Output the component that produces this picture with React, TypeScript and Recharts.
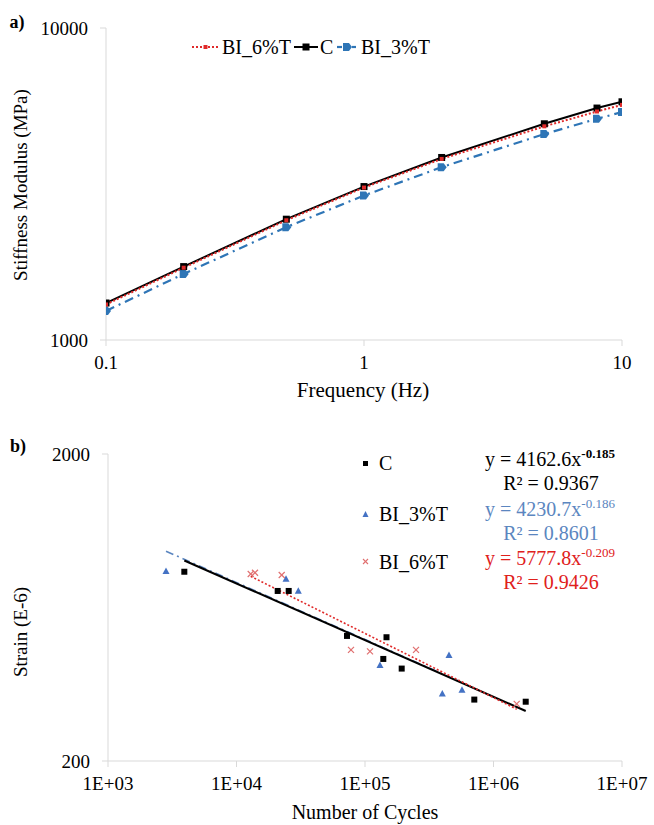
import React from "react";
import { LineChart, Line, ScatterChart, Scatter, XAxis, YAxis } from "recharts";

const FONT = '"Liberation Serif", "Times New Roman", serif';
const AXIS_GREY = "#d9d9d9";

// a) stiffness vs frequency
const FREQ = [0.1, 0.2, 0.5, 1, 2, 5, 8, 10];
const MOD_C = [1314, 1719, 2439, 3103, 3846, 4932, 5539, 5801];
const MOD_BI6 = [1300, 1705, 2420, 3080, 3805, 4840, 5400, 5670];
const MOD_BI3 = [1239, 1628, 2299, 2904, 3581, 4571, 5117, 5376];
const FREQ_TICKS = [0.1, 1, 10];
const MOD_TICKS = [1000, 10000];

// b) fatigue
const C_N = [3926, 20920, 25480, 72440, 147000, 138800, 193000, 708900, 1781000];
const C_S = [827, 716, 716, 511, 506, 430, 400, 317, 312];
const BI3_N = [2828, 24280, 30270, 130800, 450400, 399600, 568600];
const BI3_S = [832, 785, 717, 411, 443, 332, 341];
const BI6_N = [12900, 13930, 22480, 77800, 109400, 249400, 1515000];
const BI6_S = [813, 821, 807, 460, 455, 460, 307];

// trendline ends (from the fitted equations shown)
const TREND_C_N = [3926, 1781000];
const TREND_C_S = [900, 291];
const TREND_BI3_N = [2828, 568600];
const TREND_BI3_S = [965, 360];
const TREND_BI6_N = [12900, 1515000];
const TREND_BI6_S = [799, 295];

const CYCLE_TICKS = [1e3, 1e4, 1e5, 1e6, 1e7];
const STRAIN_TICKS = [200, 2000];

const topData = FREQ.map((f, i) => ({ f, c: MOD_C[i], bi6: MOD_BI6[i], bi3: MOD_BI3[i] }));
const pts = (ns: number[], ss: number[]) => ns.map((n, i) => ({ n, s: ss[i] }));

const RED = "#e02a2a";
const BLUE = "#2e75b6";
const TRI_BLUE = "#4472c4";
const EQ_BLUE = "#5b86c0";

const tickStyle = { fill: "#000", fontSize: 19, fontFamily: FONT };

const squareDot = (size: number, color: string) => (p: any) => (
  <rect key={p.index} x={p.cx - size / 2} y={p.cy - size / 2} width={size} height={size} fill={color} />
);

const diamondDot = (p: any) => (
  <path
    key={p.index}
    d={`M${p.cx - 4},${p.cy - 4} L${p.cx + 2},${p.cy - 4} L${p.cx + 5},${p.cy} L${p.cx + 2},${p.cy + 4} L${p.cx - 4},${p.cy + 4} Z`}
    fill={BLUE}
  />
);

const Square = (p: any) => <rect x={p.cx - 3} y={p.cy - 3} width={6} height={6} fill="#000" />;
const Tri = (p: any) => (
  <path d={`M${p.cx},${p.cy - 3.5} L${p.cx + 3.5},${p.cy + 3} L${p.cx - 3.5},${p.cy + 3} Z`} fill={TRI_BLUE} />
);
const Cross = (p: any) => (
  <g stroke="#e07070" strokeWidth={1.2}>
    <line x1={p.cx - 3} y1={p.cy - 3} x2={p.cx + 3} y2={p.cy + 3} />
    <line x1={p.cx - 3} y1={p.cy + 3} x2={p.cx + 3} y2={p.cy - 3} />
  </g>
);
const NoShape = () => <g />;

function Txt({ x, y, size = 18, rotate = false, color = "#000", bold = false, children }: any) {
  return (
    <div
      style={{
        position: "absolute",
        left: x,
        top: y,
        transform: `translate(-50%, -50%)${rotate ? " rotate(-90deg)" : ""}`,
        fontFamily: FONT,
        fontSize: size,
        fontWeight: bold ? 700 : 400,
        color,
        whiteSpace: "nowrap",
        lineHeight: 1,
      }}
    >
      {children}
    </div>
  );
}

function Eq({ y, a, b, r2, color, bold }: any) {
  return (
    <>
      <Txt x={550} y={y} size={20} color={color}>
        y = {a}x<sup style={{ fontSize: 13, fontWeight: bold ? 700 : 400 }}>-{b}</sup>
      </Txt>
      <Txt x={551} y={y + 25} size={20} color={color}>
        R² = {r2}
      </Txt>
    </>
  );
}

export default function App() {
  return (
    <div style={{ position: "absolute", left: 0, top: 0, width: 654, height: 825, background: "#fff" }}>
      <div style={{ position: "absolute", left: 0, top: 0 }}>
        <LineChart width={654} height={400} data={topData} margin={{ top: 28, right: 32, left: 0, bottom: 30 }}>
          <XAxis
            dataKey="f"
            type="number"
            scale="log"
            domain={[0.1, 10]}
            ticks={FREQ_TICKS}
            allowDataOverflow
            stroke={AXIS_GREY}
            tick={tickStyle}
            tickSize={6}
            tickMargin={10}
            height={30}
          />
          <YAxis
            type="number"
            scale="log"
            domain={[1000, 10000]}
            ticks={MOD_TICKS}
            allowDataOverflow
            stroke={AXIS_GREY}
            tick={tickStyle}
            tickSize={6}
            tickMargin={12}
            width={106}
          />
          <Line dataKey="bi3" stroke={BLUE} strokeWidth={2.2} strokeDasharray="9 5 2 5" dot={diamondDot} isAnimationActive={false} />
          <Line dataKey="c" stroke="#000" strokeWidth={2} dot={squareDot(7, "#000")} isAnimationActive={false} />
          <Line dataKey="bi6" stroke={RED} strokeWidth={2} strokeDasharray="2 2" dot={squareDot(4, RED)} isAnimationActive={false} />
        </LineChart>
      </div>

      <svg style={{ position: "absolute", left: 0, top: 0 }} width={654} height={70}>
        <line x1={192} y1={47} x2={219} y2={47} stroke={RED} strokeWidth={2} strokeDasharray="2 2" />
        <rect x={203.5} y={45} width={4} height={4} fill={RED} />
        <text x={222} y={54} fontFamily={FONT} fontSize={20}>BI_6%T</text>
        <line x1={294} y1={47} x2={318} y2={47} stroke="#000" strokeWidth={2} />
        <rect x={302.5} y={43.5} width={7} height={7} fill="#000" />
        <text x={320} y={54} fontFamily={FONT} fontSize={20}>C</text>
        <line x1={337} y1={47} x2={342} y2={47} stroke={BLUE} strokeWidth={2.2} />
        <line x1={352} y1={47} x2={356} y2={47} stroke={BLUE} strokeWidth={2.2} />
        <path d="M343,43 L349,43 L352,47 L349,51 L343,51 Z" fill={BLUE} />
        <text x={361} y={54} fontFamily={FONT} fontSize={20}>BI_3%T</text>
      </svg>

      <Txt x={17} y={22} size={18} bold>a)</Txt>
      <Txt x={20} y={185} size={19} rotate>Stiffness Modulus (MPa)</Txt>
      <Txt x={363} y={390} size={21}>Frequency (Hz)</Txt>

      <div style={{ position: "absolute", left: 0, top: 420 }}>
        <ScatterChart width={654} height={405} margin={{ top: 34, right: 32, left: 0, bottom: 34 }}>
          <XAxis
            dataKey="n"
            type="number"
            scale="log"
            domain={[1e3, 1e7]}
            ticks={CYCLE_TICKS}
            allowDataOverflow
            tickFormatter={(v: number) => `1E+0${Math.round(Math.log10(v))}`}
            stroke={AXIS_GREY}
            tick={tickStyle}
            tickSize={6}
            tickMargin={10}
            height={30}
          />
          <YAxis
            dataKey="s"
            type="number"
            scale="log"
            domain={[200, 2000]}
            ticks={STRAIN_TICKS}
            allowDataOverflow
            stroke={AXIS_GREY}
            tick={tickStyle}
            tickSize={6}
            tickMargin={12}
            width={108}
          />
          <Scatter data={pts(TREND_BI3_N, TREND_BI3_S)} line={{ stroke: EQ_BLUE, strokeWidth: 1.6, strokeDasharray: "8 4 2 4" }} shape={NoShape} legendType="none" isAnimationActive={false} />
          <Scatter data={pts(TREND_C_N, TREND_C_S)} line={{ stroke: "#000", strokeWidth: 2 }} shape={NoShape} legendType="none" isAnimationActive={false} />
          <Scatter data={pts(TREND_BI6_N, TREND_BI6_S)} line={{ stroke: RED, strokeWidth: 1.6, strokeDasharray: "2 2" }} shape={NoShape} legendType="none" isAnimationActive={false} />
          <Scatter name="C" data={pts(C_N, C_S)} shape={Square} isAnimationActive={false} />
          <Scatter name="BI_3%T" data={pts(BI3_N, BI3_S)} shape={Tri} isAnimationActive={false} />
          <Scatter name="BI_6%T" data={pts(BI6_N, BI6_S)} shape={Cross} isAnimationActive={false} />
        </ScatterChart>
      </div>

      <svg style={{ position: "absolute", left: 0, top: 440 }} width={460} height={140}>
        <rect x={363} y={21} width={5} height={5} fill="#000" />
        <text x={379} y={30} fontFamily={FONT} fontSize={20}>C</text>
        <path d="M365.5,71 L368.5,77 L362.5,77 Z" fill={TRI_BLUE} />
        <text x={379} y={81} fontFamily={FONT} fontSize={20}>BI_3%T</text>
        <g stroke="#e07070" strokeWidth={1.1}>
          <line x1={363} y1={119} x2={368} y2={124} />
          <line x1={363} y1={124} x2={368} y2={119} />
        </g>
        <text x={379} y={129} fontFamily={FONT} fontSize={20}>BI_6%T</text>
      </svg>

      <Eq y={458} a="4162.6" b="0.185" r2="0.9367" color="#000" bold />
      <Eq y={508} a="4230.7" b="0.186" r2="0.8601" color={EQ_BLUE} />
      <Eq y={557} a="5777.8" b="0.209" r2="0.9426" color="#e0201b" />

      <Txt x={18} y={446} size={18} bold>b)</Txt>
      <Txt x={20} y={632} size={19} rotate>Strain (E-6)</Txt>
      <Txt x={365} y={812} size={20}>Number of Cycles</Txt>
    </div>
  );
}
